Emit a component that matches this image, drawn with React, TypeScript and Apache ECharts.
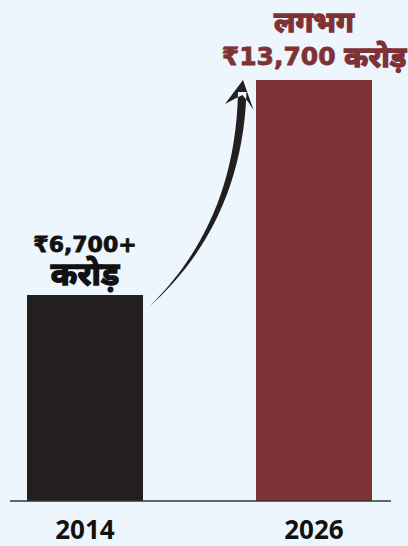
import React, { useEffect, useRef } from "react";
import * as echarts from "echarts";

const years = ["2014", "2026"];
const values = [6700, 13700];
const valueLabels = ["{a|₹6,700+}\n{d|करोड़}", "{d|लगभग}\n{a|₹13,700 }{d|करोड़}"];
const barColors = ["#231F20", "#7F3236"];
const labelColors = ["#111111", "#7F3236"];
const numberSizes = [22, 25];
const hindiSizes = [32, 29];
const labelLineHeights = [30, 35];

const ARROW_D =
  "M150,306 C198,263 243,196 246.5,92 L238,92 C236,194 196,260 150,306 Z " +
  "M243,80 L253.5,110 Q248,101 242.5,95 Q236,98 225,104 Z";

export default function App() {
  const ref = useRef<HTMLDivElement>(null);
  useEffect(() => {
    document.body.style.margin = "0";
    document.body.style.background = "#EDF5FD";
    const ArrowShape = echarts.graphic.extendPath(ARROW_D, {});
    echarts.graphic.registerShape("growthArrow", ArrowShape as any);
    const chart = echarts.init(ref.current!, null, { renderer: "svg" });
    const labelFont = '"DejaVu Sans", "Noto Sans", sans-serif';
    const yearFont = '"Noto Sans", "Open Sans", sans-serif';
    const grids = [
      { left: 27, width: 116, top: 80, bottom: 45 },
      { left: 256, width: 116, top: 80, bottom: 45 },
    ];
    chart.setOption({
      animation: false,
      backgroundColor: "#EDF5FD",
      grid: grids,
      xAxis: years.map((y, i) => ({
        type: "category",
        gridIndex: i,
        data: [y],
        axisLine: { show: false },
        axisTick: { show: false },
        axisLabel: {
          margin: 15,
          fontSize: 26,
          fontWeight: "bold",
          color: "#111111",
          fontFamily: yearFont,
        },
      })),
      yAxis: years.map((_, i) => ({
        type: "value",
        gridIndex: i,
        min: 0,
        max: 13700,
        show: false,
        splitLine: { show: false },
      })),
      series: values.map((v, i) => ({
        type: "bar",
        xAxisIndex: i,
        yAxisIndex: i,
        barWidth: "100%",
        data: [{ value: v, itemStyle: { color: barColors[i] } }],
        label: {
          show: true,
          position: "top",
          distance: 6,
          formatter: valueLabels[i],
          align: "center",
          rich: {
            a: {
              fontSize: numberSizes[i],
              lineHeight: labelLineHeights[i],
              fontWeight: "bold",
              fontFamily: labelFont,
              color: labelColors[i],
              textBorderColor: labelColors[i],
              textBorderWidth: 0.8,
            },
            d: {
              fontSize: hindiSizes[i],
              lineHeight: labelLineHeights[i],
              fontWeight: "bold",
              fontFamily: labelFont,
              color: labelColors[i],
              textBorderColor: labelColors[i],
              textBorderWidth: 1.4,
            },
          },
        },
      })),
      graphic: [
        {
          type: "line",
          shape: { x1: 10, y1: 501, x2: 391, y2: 501 },
          style: { stroke: "#333333", lineWidth: 1.5 },
          z: 10,
        },
        {
          type: "growthArrow",
          x: 0,
          y: 0,
          style: { fill: "#231F20" },
          z: 10,
        },
      ],
    });
    return () => chart.dispose();
  }, []);
  return <div ref={ref} style={{ width: 408, height: 546 }} />;
}
